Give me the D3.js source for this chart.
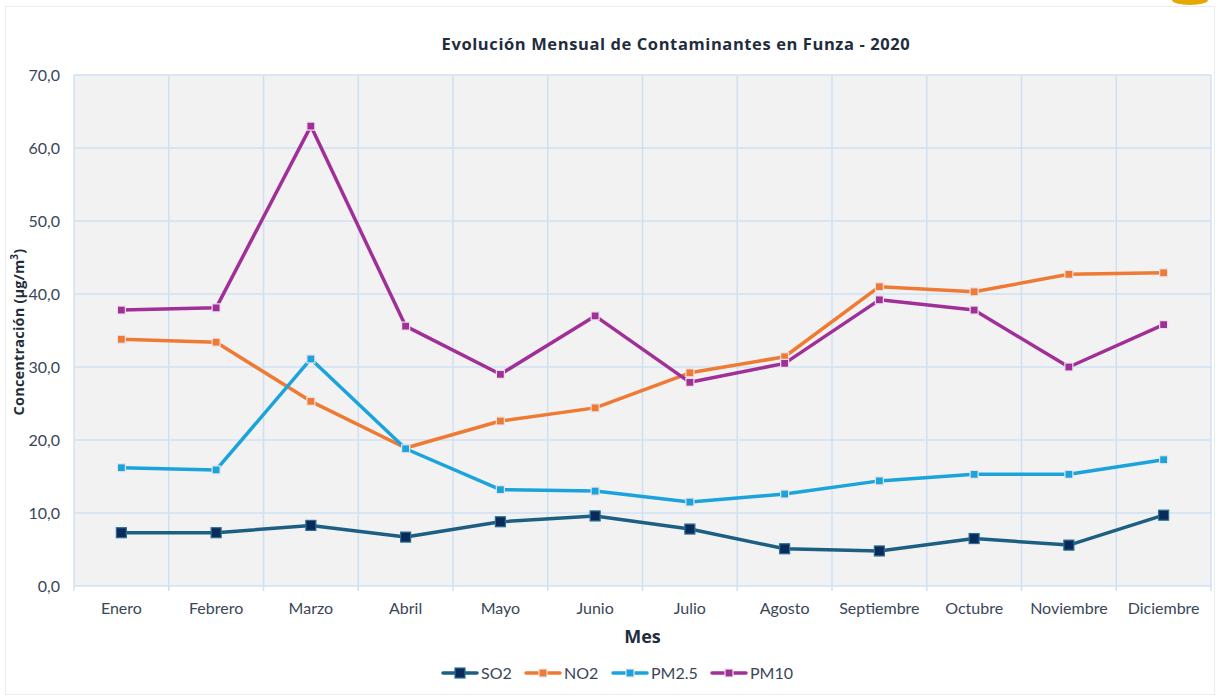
<!DOCTYPE html>
<html>
<head>
<meta charset="utf-8">
<script src="https://cdn.jsdelivr.net/npm/d3@7"></script>
<style>
  body { margin: 0; background: #fff; }
  svg { display: block; }
  text { font-family: Lato, "Open Sans", sans-serif; }
</style>
</head>
<body>
<div id="chart"></div>
<script>
const months = ["Enero", "Febrero", "Marzo", "Abril", "Mayo", "Junio", "Julio", "Agosto", "Septiembre", "Octubre", "Noviembre", "Diciembre"];
const so2 = [7.3, 7.3, 8.3, 6.7, 8.8, 9.6, 7.8, 5.1, 4.8, 6.5, 5.6, 9.7];
const no2 = [33.8, 33.4, 25.3, 18.9, 22.6, 24.4, 29.2, 31.4, 41.0, 40.3, 42.7, 42.9];
const pm25 = [16.2, 15.9, 31.1, 18.8, 13.2, 13.0, 11.5, 12.6, 14.4, 15.3, 15.3, 17.3];
const pm10 = [37.8, 38.1, 63.0, 35.6, 29.0, 37.0, 27.9, 30.5, 39.2, 37.8, 30.0, 35.8];
const yTicks = [0, 10, 20, 30, 40, 50, 60, 70];

const series = [
  { name: "SO2", values: so2, line: "#1d5f82", fill: "#0b2a5c", size: 10, width: 3.5 },
  { name: "NO2", values: no2, line: "#ee7a33", fill: "#ee7a33", size: 8, width: 3.5 },
  { name: "PM2.5", values: pm25, line: "#1aa3dc", fill: "#1aa3dc", size: 8, width: 3.5 },
  { name: "PM10", values: pm10, line: "#a12f98", fill: "#a12f98", size: 8, width: 3.5 }
];

const width = 1220, height = 696;
const margin = { top: 75, right: 9, bottom: 110, left: 74 };
const innerWidth = width - margin.left - margin.right;
const innerHeight = height - margin.top - margin.bottom;

const svg = d3.select("#chart")
  .append("svg")
  .attr("width", width)
  .attr("height", height);

// outer frame
svg.append("rect")
  .attr("x", 5.5).attr("y", 6.5)
  .attr("width", 1209).attr("height", 688)
  .attr("fill", "#fff")
  .attr("stroke", "#ececec");

// yellow blob top right
svg.append("ellipse")
  .attr("cx", 1190).attr("cy", 0)
  .attr("rx", 18).attr("ry", 5)
  .attr("fill", "#e3a900");

const inner = svg.append("g")
  .attr("transform", `translate(${margin.left}, ${margin.top})`);

const x = d3.scaleBand().domain(months).range([0, innerWidth]);
const y = d3.scaleLinear().domain([0, 70]).range([innerHeight, 0]);

inner.append("rect")
  .attr("width", innerWidth)
  .attr("height", innerHeight)
  .attr("fill", "#f2f2f2");

// horizontal grid
inner.selectAll(".hgrid")
  .data(yTicks)
  .enter()
  .append("line")
  .attr("x1", 0).attr("x2", innerWidth)
  .attr("y1", d => y(d)).attr("y2", d => y(d))
  .attr("stroke", "#cfe0f2")
  .attr("stroke-width", 1.5);

// vertical grid (band edges)
const edges = months.map(m => x(m)).concat([innerWidth]);
inner.selectAll(".vgrid")
  .data(edges)
  .enter()
  .append("line")
  .attr("x1", d => d).attr("x2", d => d)
  .attr("y1", 0).attr("y2", innerHeight + 5)
  .attr("stroke", "#cfe0f2")
  .attr("stroke-width", 1.5);

// y axis labels
const yAxis = inner.append("g")
  .call(d3.axisLeft(y).tickValues(yTicks).tickSize(0).tickPadding(14)
    .tickFormat(d => d3.format(".1f")(d).replace(".", ",")));
yAxis.select(".domain").remove();
yAxis.selectAll("text")
  .attr("font-size", 16)
  .attr("fill", "#3a4658")
  .style("font-family", "Lato, sans-serif");

// x axis labels
const xAxis = inner.append("g")
  .attr("transform", `translate(0, ${innerHeight})`)
  .call(d3.axisBottom(x).tickSize(0).tickPadding(17));
xAxis.select(".domain").remove();
xAxis.selectAll("text")
  .attr("font-size", 16)
  .attr("fill", "#3a4658")
  .style("font-family", "Lato, sans-serif");

// lines and markers
const cx = m => x(m) + x.bandwidth() / 2;
series.forEach(s => {
  const line = d3.line()
    .x((d, i) => cx(months[i]))
    .y(d => y(d));

  inner.append("path")
    .datum(s.values)
    .attr("d", line)
    .attr("fill", "none")
    .attr("stroke", s.line)
    .attr("stroke-width", s.width)
    .attr("stroke-linejoin", "round");

  inner.selectAll(null)
    .data(s.values)
    .enter()
    .append("rect")
    .attr("x", (d, i) => cx(months[i]) - s.size / 2)
    .attr("y", d => y(d) - s.size / 2)
    .attr("width", s.size)
    .attr("height", s.size)
    .attr("fill", s.fill)
    .attr("stroke", s.name === "SO2" ? "#2b6f8f" : "#ece4ea")
    .attr("stroke-width", 1.2);
});

// title
svg.append("text")
  .attr("x", 676)
  .attr("y", 50)
  .attr("text-anchor", "middle")
  .attr("font-size", 16.5)
  .attr("font-weight", "bold")
  .attr("letter-spacing", 0.6)
  .attr("fill", "#1f2d3d")
  .style("font-family", "'Open Sans', sans-serif")
  .text("Evolución Mensual de Contaminantes en Funza - 2020");

// x label
svg.append("text")
  .attr("x", margin.left + innerWidth / 2)
  .attr("y", 643)
  .attr("text-anchor", "middle")
  .attr("font-size", 18)
  .attr("font-weight", "bold")
  .attr("fill", "#1f2d3d")
  .style("font-family", "'Open Sans', sans-serif")
  .text("Mes");

// y label
const yl = svg.append("text")
  .attr("transform", "rotate(-90)")
  .attr("x", -332)
  .attr("y", 24)
  .attr("text-anchor", "middle")
  .attr("font-size", 14.5)
  .attr("font-weight", "bold")
  .attr("letter-spacing", 0.2)
  .attr("fill", "#1f2d3d")
  .style("font-family", "'Open Sans', sans-serif");
yl.append("tspan").text("Concentración (µg/m");
yl.append("tspan").attr("dy", -6).attr("font-size", 10).text("3");
yl.append("tspan").attr("dy", 6).text(")");

// legend
const legendItems = [
  { x: 443 },
  { x: 526 },
  { x: 613 },
  { x: 712 }
];
const legend = svg.append("g").attr("transform", "translate(0, 673)");
series.forEach((s, i) => {
  const g = legend.append("g").attr("transform", `translate(${legendItems[i].x}, 0)`);
  g.append("line")
    .attr("x1", 0).attr("x2", 34)
    .attr("y1", 0).attr("y2", 0)
    .attr("stroke", s.line)
    .attr("stroke-width", 3.5)
    .attr("stroke-linecap", "round");
  g.append("rect")
    .attr("x", 17 - s.size / 2).attr("y", -s.size / 2)
    .attr("width", s.size).attr("height", s.size)
    .attr("fill", s.fill)
    .attr("stroke", s.name === "SO2" ? "#2b6f8f" : "#ece4ea")
    .attr("stroke-width", 1.2);
  g.append("text")
    .attr("x", 38)
    .attr("y", 5.5)
    .attr("font-size", 16)
    .attr("fill", "#3a4658")
    .text(s.name);
});
</script>
</body>
</html>
